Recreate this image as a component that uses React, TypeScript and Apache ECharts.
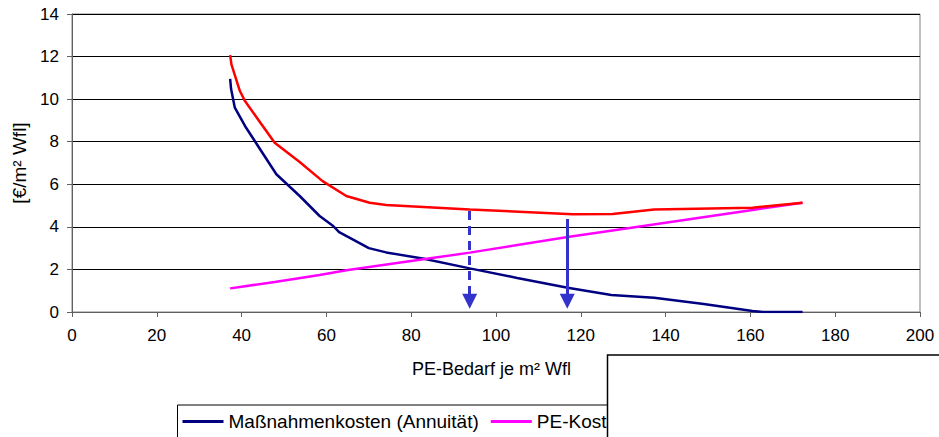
import React, { useEffect, useRef } from "react";
import * as echarts from "echarts";

// Maßnahmenkosten (Annuität)
const massX = [37.3, 37.5, 38.4, 40.8, 48.2, 53.7, 58.4, 61.6, 63, 66.3, 70, 74.1, 83, 93.8, 105, 116.9, 127.2, 137.3, 149, 160.5, 163, 172.3];
const massY = [10.95, 10.5, 9.6, 8.74, 6.47, 5.45, 4.51, 4.04, 3.75, 3.4, 3.0, 2.8, 2.5, 2.05, 1.6, 1.14, 0.8, 0.67, 0.38, 0.05, 0, 0];

// PE-Kosten
const peX = [37.3, 40, 47.8, 58.4, 64.7, 93.8, 116.9, 129.1, 161.3, 172.3];
const peY = [1.11, 1.19, 1.41, 1.74, 1.96, 2.79, 3.52, 3.88, 4.82, 5.13];

// Gesamtkosten (sum)
const sumX = [37.3, 37.6, 39.6, 40.8, 47.8, 53.7, 59.1, 64.7, 70.2, 74.1, 93.8, 118.1, 127.5, 137.3, 160.5, 172.3];
const sumY = [12.07, 11.63, 10.38, 9.91, 7.95, 7.05, 6.15, 5.45, 5.13, 5.03, 4.82, 4.59, 4.6, 4.82, 4.9, 5.13];

// Arrows
const arrowX = [93.8, 116.8];
const arrowTop = [4.74, 4.37];
const arrowBottom = [0.5, 0.5];
const arrowDashed = [true, false];

const xTicks = { min: 0, max: 200, interval: 20 };
const yTicks = { min: 0, max: 14, interval: 2 };

const pairs = (xs: number[], ys: number[]) => xs.map((x, i) => [x, ys[i]]);

const FONT = "Liberation Sans, Arial, sans-serif";

export default function App() {
  const ref = useRef<HTMLDivElement>(null);
  useEffect(() => {
    if (!ref.current) return;
    const chart = echarts.init(ref.current, undefined, { renderer: "svg" });
    const arrowSeries = arrowX.map((x, i) => ({
      type: "lines",
      coordinateSystem: "cartesian2d",
      silent: true,
      z: 5,
      symbol: ["none", "triangle"],
      symbolSize: [16, 15],
      lineStyle: {
        color: "#3333CC",
        width: 3,
        opacity: 1,
        type: arrowDashed[i] ? [9, 6] : "solid",
      },
      data: [{ coords: [[x, arrowTop[i]], [x, arrowBottom[i]]] }],
    }));
    chart.setOption({
      animation: false,
      textStyle: { fontFamily: FONT },
      grid: {
        left: 72,
        right: 19,
        top: 14,
        bottom: 125,
        show: true,
        borderColor: "#808080",
        borderWidth: 1,
        backgroundColor: "transparent",
      },
      xAxis: {
        type: "value",
        ...xTicks,
        axisLine: { show: true, lineStyle: { color: "#606060", width: 1 } },
        axisTick: { show: true, length: 5, lineStyle: { color: "#606060" } },
        axisLabel: { color: "#000", fontSize: 17, margin: 15, fontFamily: FONT },
        splitLine: { show: false },
      },
      yAxis: {
        type: "value",
        ...yTicks,
        name: "[€/m² Wfl]",
        nameLocation: "middle",
        nameGap: 38,
        nameRotate: 90,
        nameTextStyle: { color: "#000", fontSize: 19, fontFamily: FONT },
        axisLine: { show: true, lineStyle: { color: "#606060", width: 1 } },
        axisTick: { show: true, length: 5, lineStyle: { color: "#606060" } },
        axisLabel: { color: "#000", fontSize: 17, margin: 13, fontFamily: FONT },
        splitLine: { show: true, lineStyle: { color: "#000", width: 1 } },
      },
      legend: {
        left: 177.5,
        top: 405,
        data: ["Maßnahmenkosten (Annuität)", "PE-Kosten"],
        icon: "rect",
        itemWidth: 41,
        itemHeight: 3,
        itemGap: 12,
        padding: [7, 6, 12, 5],
        borderColor: "#000",
        borderWidth: 1,
        backgroundColor: "#fff",
        textStyle: { color: "#000", fontSize: 19, fontFamily: FONT },
        selectedMode: false,
      },
      graphic: [
        {
          type: "text",
          left: 412,
          top: 360,
          style: { text: "PE-Bedarf je m² Wfl", fill: "#000", fontSize: 18, fontFamily: FONT },
        },
        {
          type: "rect",
          z: 100,
          shape: { x: 607.5, y: 355, width: 600, height: 200 },
          style: { fill: "#fff", stroke: "#000", lineWidth: 1.5 },
        },
      ],
      series: [
        {
          name: "Maßnahmenkosten (Annuität)",
          type: "line",
          data: pairs(massX, massY),
          showSymbol: false,
          symbol: "none",
          color: "#000080",
          lineStyle: { color: "#000080", width: 2.5 },
          z: 3,
        },
        {
          name: "PE-Kosten",
          type: "line",
          data: pairs(peX, peY),
          showSymbol: false,
          symbol: "none",
          color: "#FF00FF",
          lineStyle: { color: "#FF00FF", width: 2.5 },
          z: 3,
        },
        {
          name: "Gesamtkosten",
          type: "line",
          data: pairs(sumX, sumY),
          showSymbol: false,
          symbol: "none",
          color: "#FF0000",
          lineStyle: { color: "#FF0000", width: 2.5 },
          z: 4,
        },
        ...arrowSeries,
      ],
    });
    return () => chart.dispose();
  }, []);
  return (
    <div
      ref={ref}
      style={{ position: "fixed", left: 0, top: 0, width: 939, height: 437, background: "#fff" }}
    />
  );
}
